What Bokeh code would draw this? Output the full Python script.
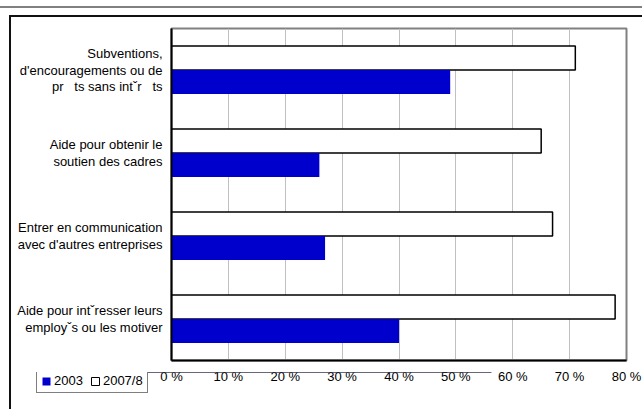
from bokeh.plotting import figure
from bokeh.models import (FactorRange, Range1d, ColumnDataSource, Legend, LegendItem,
                          FixedTicker)
from bokeh.layouts import column
from bokeh.transform import dodge
from bokeh.embed import file_html
from bokeh.resources import INLINE

NB = "\u00a0"
categories = [
    "Subventions,\nd'encouragements ou de\npr" + NB * 3 + "ts sans intˇr" + NB * 3 + "ts",
    "Aide pour obtenir le\nsoutien des cadres",
    "Entrer en communication\navec d'autres entreprises",
    "Aide pour intˇresser leurs\nemployˇs ou les motiver",
]
values_2003 = [49, 26, 27, 40]
values_2007 = [71, 65, 67, 78]
series_names = ["2003", "2007/8"]
x_ticks = [0, 10, 20, 30, 40, 50, 60, 70, 80]
tick_labels = ["0 %", "10 %", "20 %", "30 %", "40 %", "50 %", "60 %", "70 %", "80 %"]

FONT = "Liberation Sans"
BLUE = "#0000CC"

source = ColumnDataSource(dict(cat=categories, v2003=values_2003, v2007=values_2007))

p = figure(width=642, height=387,
           y_range=FactorRange(factors=categories[::-1]),
           x_range=Range1d(0, 80),
           output_backend="svg", toolbar_location=None,
           min_border_left=171, min_border_right=16,
           min_border_top=28, min_border_bottom=27)

p.border_fill_alpha = 0
p.background_fill_color = "white"

r_white = p.hbar(y=dodge("cat", 0.145, range=p.y_range), right="v2007", left=0,
                 height=0.289, source=source, fill_color="white",
                 line_color="black", line_width=1.5)
r_blue = p.hbar(y=dodge("cat", -0.145, range=p.y_range), right="v2003", left=0,
                height=0.289, source=source, fill_color=BLUE, line_color=None)

# grid
p.ygrid.grid_line_color = None
p.xgrid.ticker = FixedTicker(ticks=x_ticks)
p.xgrid.grid_line_color = "#C0C0C0"
p.xgrid.grid_line_width = 1

# frame
p.outline_line_color = "#808080"
p.outline_line_width = 2

# x axis
p.xaxis.ticker = FixedTicker(ticks=x_ticks)
p.xaxis.major_label_overrides = {t: l for t, l in zip(x_ticks, tick_labels)}
p.xaxis.major_tick_line_color = None
p.xaxis.minor_tick_line_color = None
p.xaxis.major_tick_out = 0
p.xaxis.major_tick_in = 0
p.xaxis.minor_tick_out = 0
p.xaxis.axis_line_color = "black"
p.xaxis.axis_line_width = 2
p.xaxis.major_label_standoff = 8
p.xaxis.major_label_text_font = FONT
p.xaxis.major_label_text_font_size = "13px"
p.xaxis.major_label_text_color = "#000000"

# y axis
p.yaxis.major_tick_line_color = None
p.yaxis.minor_tick_line_color = None
p.yaxis.major_tick_out = 0
p.yaxis.major_tick_in = 0
p.yaxis.axis_line_color = "black"
p.yaxis.axis_line_width = 2
p.yaxis.major_label_standoff = 9
p.yaxis.major_label_text_font = FONT
p.yaxis.major_label_text_font_size = "13px"
p.yaxis.major_label_text_line_height = 1.08
p.yaxis.major_label_text_color = "#000000"

# legend strip (own small figure, moved into the bottom-left corner)
lg = figure(width=642, height=22, x_range=Range1d(0, 1), y_range=Range1d(0, 1),
            x_axis_location=None, y_axis_location=None,
            output_backend="svg", toolbar_location=None, min_border=0)
lg.grid.visible = False
lg.outline_line_color = None
lg.border_fill_alpha = 0
lg.background_fill_alpha = 0
lg.styles = {"transform": "translate(-135px, -15px)"}
# style-only renderers (their single row lies outside the visible range)
lg_blue = lg.hbar(y=[5], right=[1], left=0, height=0.5, fill_color=BLUE, line_color=None)
lg_white = lg.hbar(y=[5], right=[1], left=0, height=0.5, fill_color="white",
                   line_color="black", line_width=1)

legend = Legend(items=[LegendItem(label=series_names[0], renderers=[lg_blue]),
                       LegendItem(label=series_names[1], renderers=[lg_white])],
                orientation="horizontal", location=(0, 1),
                border_line_color="black", border_line_width=1,
                padding=4, spacing=7, margin=0,
                glyph_width=10, glyph_height=10, label_height=12,
                label_standoff=3, label_text_font=FONT,
                label_text_font_size="13px", label_text_color="#000000",
                background_fill_color="white", background_fill_alpha=1)
lg.add_layout(legend)

layout = column(p, lg, spacing=0)
layout.styles = {
    "background": ("linear-gradient(#808080,#808080) 0 6px / 100% 2px no-repeat, "
                   "linear-gradient(#111,#111) 9px 15px / 100% 2px no-repeat, "
                   "linear-gradient(#111,#111) 9px 15px / 2px 100% no-repeat, "
                   "#ffffff"),
}

open("out.html", "w").write(file_html(layout, INLINE))
